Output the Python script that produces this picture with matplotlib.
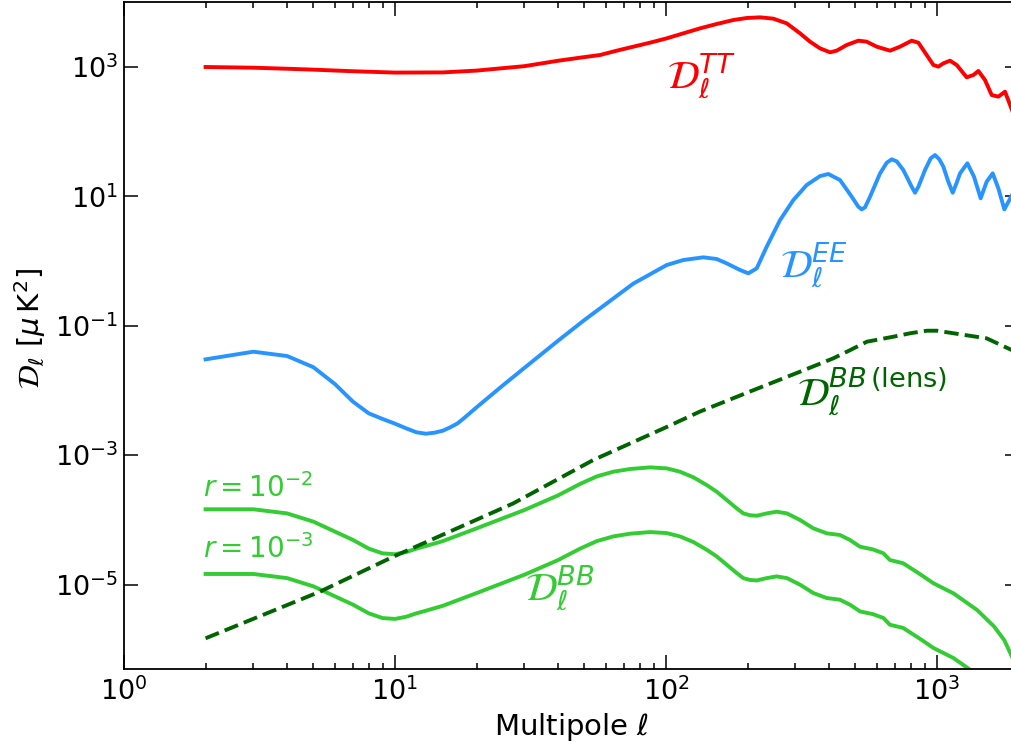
import matplotlib
matplotlib.use("Agg")
import matplotlib.pyplot as plt
from matplotlib.ticker import LogLocator, FixedLocator, NullLocator

# ---- temperature power spectrum D_ell^TT [muK^2]
ell_tt = [2, 3, 4, 5, 7, 10, 15, 20, 30, 40, 48, 57.1, 65.8, 75.8, 87.3, 100.6,
          115.9, 133.6, 153.8, 177.3, 198.5, 222.3, 249, 278.8, 312.3, 340, 370,
          403, 426.4, 464, 512.5, 550, 599, 670.9, 730.3, 806.4, 853.4, 915.7,
          969.4, 1011.4, 1055.3, 1116.9, 1181.9, 1287, 1362, 1421, 1503, 1591,
          1684, 1782, 1891]
dl_tt = [1000, 975, 940, 910, 860, 820, 825, 880, 1030, 1250, 1390, 1533, 1788,
         2062, 2377, 2774, 3314, 3960, 4619, 5325, 5719, 5857, 5585, 4730, 3314,
         2463, 1943, 1686, 1788, 2188, 2553, 2463, 2062, 1788, 2062, 2553, 2377,
         1533, 1074, 1012, 1139, 1253, 1074, 692, 752, 868, 630, 369, 348, 416,
         216]

# ---- E-mode polarisation D_ell^EE
ell_ee = [2, 3, 4, 5, 6, 7, 8, 9, 10, 11, 12, 13, 14, 15, 16, 17, 18, 20, 25,
          30, 40, 50, 60, 75.8, 100.6, 115.9, 137.3, 153.8, 167.3, 187.6, 201.3,
          216.1, 235.2, 263.5, 295.1, 330.4, 370, 397.2, 438.6, 484.5, 512.5,
          527.2, 542.4, 566, 616.3, 652.4, 680.6, 710, 751, 806.4, 829.6, 853.4,
          903.1, 947.6, 983.1, 1019.9, 1055.3, 1100, 1142.5, 1180, 1216, 1294,
          1369, 1449, 1525, 1605, 1684, 1772, 1891]
dl_ee = [0.0303, 0.0398, 0.0341, 0.0229, 0.0126, 0.00671, 0.00444, 0.00363,
         0.00307, 0.0026, 0.00226, 0.00215, 0.00223, 0.00239, 0.0027, 0.0031,
         0.00376, 0.0055, 0.012, 0.0223, 0.059, 0.123, 0.217, 0.45, 0.87, 1.04,
         1.144, 1.078, 0.924, 0.729, 0.647, 0.773, 1.668, 4.31, 8.79, 15.0,
         20.6, 22.2, 17.9, 9.89, 6.93, 6.30, 6.77, 9.89, 22.7, 33.2, 37.4, 34.8,
         25.6, 14.1, 11.4, 14.1, 25.6, 38.8, 43.6, 37.4, 28.8, 17.0, 11.4,
         16.0, 22.7, 32.5, 20.2, 9.34, 16.9, 22.7, 13.3, 6.30, 10.5]

# ---- primordial (tensor) B-modes for two tensor-to-scalar ratios
ell_bb = [2, 3, 4, 5, 6, 7, 8, 9, 10, 11, 12, 13, 15, 20, 25, 30, 40, 48.2,
          55.5, 63.9, 73.6, 87.3, 100.6, 112.6, 126.2, 141.3, 153.8, 167.5,
          182.3, 192.9, 204.2, 216.1, 235.2, 256, 279.5, 312, 349.6, 392, 438,
          477.5, 520, 580, 634, 670, 750, 864, 970, 1152, 1406, 1626, 1770, 1891]
dl_bb_r2 = [1.46e-4, 1.46e-4, 1.26e-4, 9.4e-5, 6.6e-5, 4.9e-5, 3.6e-5, 3.04e-5,
            2.95e-5, 3.19e-5, 3.6e-5, 3.95e-5, 4.7e-5, 7.4e-5, 1.06e-4, 1.42e-4,
            2.4e-4, 3.6e-4, 4.7e-4, 5.56e-4, 6.12e-4, 6.49e-4, 6.26e-4, 5.56e-4,
            4.55e-4, 3.46e-4, 2.73e-4, 2.03e-4, 1.51e-4, 1.26e-4, 1.18e-4,
            1.16e-4, 1.26e-4, 1.34e-4, 1.26e-4, 1.0e-4, 7.41e-5, 6.2e-5, 5.85e-5,
            4.89e-5, 3.85e-5, 3.5e-5, 3.05e-5, 2.4e-5, 2.14e-5, 1.46e-5, 1.05e-5,
            7.3e-6, 4.05e-6, 2.24e-6, 1.39e-6, 7.7e-7]
dl_bb_r3 = [1.46e-5, 1.46e-5, 1.26e-5, 9.4e-6, 6.6e-6, 4.9e-6, 3.6e-6, 3.04e-6,
            2.95e-6, 3.19e-6, 3.6e-6, 3.95e-6, 4.7e-6, 7.4e-6, 1.06e-5, 1.42e-5,
            2.4e-5, 3.6e-5, 4.7e-5, 5.56e-5, 6.12e-5, 6.49e-5, 6.26e-5, 5.56e-5,
            4.55e-5, 3.46e-5, 2.73e-5, 2.03e-5, 1.51e-5, 1.26e-5, 1.18e-5,
            1.16e-5, 1.26e-5, 1.34e-5, 1.26e-5, 1.0e-5, 7.41e-6, 6.2e-6, 5.85e-6,
            4.89e-6, 3.85e-6, 3.5e-6, 3.05e-6, 2.4e-6, 2.14e-6, 1.46e-6, 1.05e-6,
            7.3e-7, 4.05e-7, 2.24e-7, 1.39e-7, 7.7e-8]

# ---- lensing-induced B-modes
ell_lens = [2, 5.29, 9.85, 27.3, 53.8, 100, 133, 177, 235, 312, 414, 477.5,
            551, 692, 800, 918, 1000, 1152, 1525, 1891]
dl_lens = [1.48e-6, 7.8e-6, 2.7e-5, 1.8e-4, 8.4e-4, 2.7e-3, 4.7e-3, 7.6e-3,
           0.0122, 0.0195, 0.0314, 0.042, 0.0568, 0.068, 0.077, 0.084, 0.084,
           0.0766, 0.064, 0.042]

y_ticks = [1e-5, 1e-3, 1e-1, 1e1, 1e3]

C_TT = "#ff0000"
C_EE = "#2894ff"
C_BB = "#33cc33"
C_LENS = "#006400"

W, H = 1012, 746
fig = plt.figure(figsize=(W / 100, H / 100), dpi=100)
ax = fig.add_axes([124 / W, 1 - 668.8 / H, 894.6 / W, 666.5 / H])

lw = 2.8
ax.plot(ell_tt, dl_tt, color=C_TT, lw=lw)
ax.plot(ell_ee, dl_ee, color=C_EE, lw=lw)
ax.plot(ell_bb, dl_bb_r2, color=C_BB, lw=lw)
ax.plot(ell_bb, dl_bb_r3, color=C_BB, lw=lw)
ax.plot(ell_lens, dl_lens, color=C_LENS, lw=lw, ls="--")

ax.set_xscale("log")
ax.set_yscale("log")
ax.set_xlim(1, 2000)
ax.set_ylim(5e-7, 1e4)

ax.yaxis.set_major_locator(FixedLocator(y_ticks))
ax.yaxis.set_minor_locator(NullLocator())
ax.xaxis.set_major_locator(LogLocator(base=10, numticks=10))
ax.xaxis.set_minor_locator(LogLocator(base=10, subs=range(2, 10), numticks=20))

ax.tick_params(which="both", direction="in", top=True, right=True,
               labelsize=19.5, width=1.1)
ax.tick_params(which="major", length=10)
ax.tick_params(which="minor", length=4.3)
ax.tick_params(axis="x", pad=6)
ax.tick_params(axis="y", pad=4)
for s in ax.spines.values():
    s.set_linewidth(1.3)

ax.set_xlabel(r"Multipole $\ell$", fontsize=21)
ax.set_ylabel(r"$\mathcal{D}_\ell\ [\mu\,{\rm K}^2]$", fontsize=21)
ax.xaxis.set_label_coords(0.5, -0.063)
ax.yaxis.set_label_coords(-0.0853, 0.51)

lab = dict(fontsize=28, ha="left", va="baseline")
ax.text(100.9, 473, r"$\mathcal{D}_\ell^{TT}$", color=C_TT, **lab)
ax.text(263, 0.568, r"$\mathcal{D}_\ell^{EE}$", color=C_EE, **lab)
ax.text(304, 5.97e-3, r"$\mathcal{D}_\ell^{BB\,\mathrm{(lens)}}$", color=C_LENS, **lab)
ax.text(30.2, 5.8e-6, r"$\mathcal{D}_\ell^{BB}$", color=C_BB, **lab)
ax.text(1.956, 2.3e-4, r"$r=10^{-2}$", color=C_BB, fontsize=20, ha="left", va="baseline")
ax.text(1.956, 2.55e-5, r"$r=10^{-3}$", color=C_BB, fontsize=20, ha="left", va="baseline")

fig.savefig("out.png", dpi=100)
